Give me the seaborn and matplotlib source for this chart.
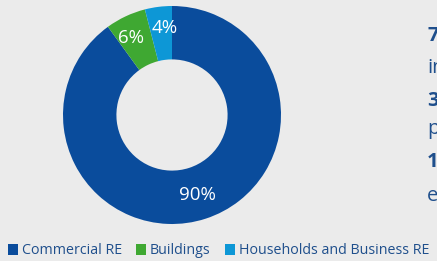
import matplotlib
matplotlib.use("Agg")
import matplotlib.pyplot as plt
import seaborn as sns
import numpy as np
from matplotlib.patches import Patch

categories = ["Commercial RE", "Buildings", "Households and Business RE"]
values = [90, 6, 4]
labels = ["90%", "6%", "4%"]
colors = ["#0a4c9c", "#3fa832", "#0d97d6"]
side_texts = [("7", True, 36), ("in", False, 68), ("3", True, 101), ("p", False, 129), ("1", True, 162), ("e", False, 196)]

sns.set_theme(style="white")
plt.rcParams['font.family'] = ['Open Sans', 'DejaVu Sans']
bg = "#ebebeb"
W, H = 437, 261
fig = plt.figure(figsize=(W / 100, H / 100), dpi=100, facecolor=bg)
cx, cy, r = 172, 115, 109
ax = fig.add_axes([(cx - r) / W, (H - cy - r) / H, 2 * r / W, 2 * r / H])
ax.set_facecolor(bg)
wedges, texts = ax.pie(values, colors=colors, startangle=90, counterclock=False,
                       radius=1, wedgeprops=dict(width=0.49, edgecolor="none"))
label_dist = [0.77, 0.80, 0.80]
label_turn = [0.0, 2.5, -2.2]
for w, lab, d, t in zip(wedges, labels, label_dist, label_turn):
    ang = np.deg2rad((w.theta1 + w.theta2) / 2 + t)
    ax.text(d * np.cos(ang), d * np.sin(ang), lab, color="white", fontsize=13.5,
            ha="center", va="center")
ax.set_xlim(-1, 1)
ax.set_ylim(-1, 1)
ax.set_aspect("auto")
ax.axis("off")

handles = [Patch(facecolor=c, edgecolor="none") for c in colors]
leg = fig.legend(handles, categories, loc="center left", bbox_to_anchor=(8 / W, (H - 251) / H),
                 ncol=3, frameon=False, fontsize=10.25, handlelength=0.72, handleheight=0.72,
                 handletextpad=0.25, columnspacing=1.0, borderaxespad=0, borderpad=0)
for t in leg.get_texts():
    t.set_color("#1f4f8c")

for s, bold, y in side_texts:
    fig.text(427 / W, (H - y) / H, s, color="#1f4f8c", fontsize=14.5,
             fontweight="bold" if bold else "normal", ha="left", va="center")

fig.savefig("out.png", dpi=100, facecolor=bg)
